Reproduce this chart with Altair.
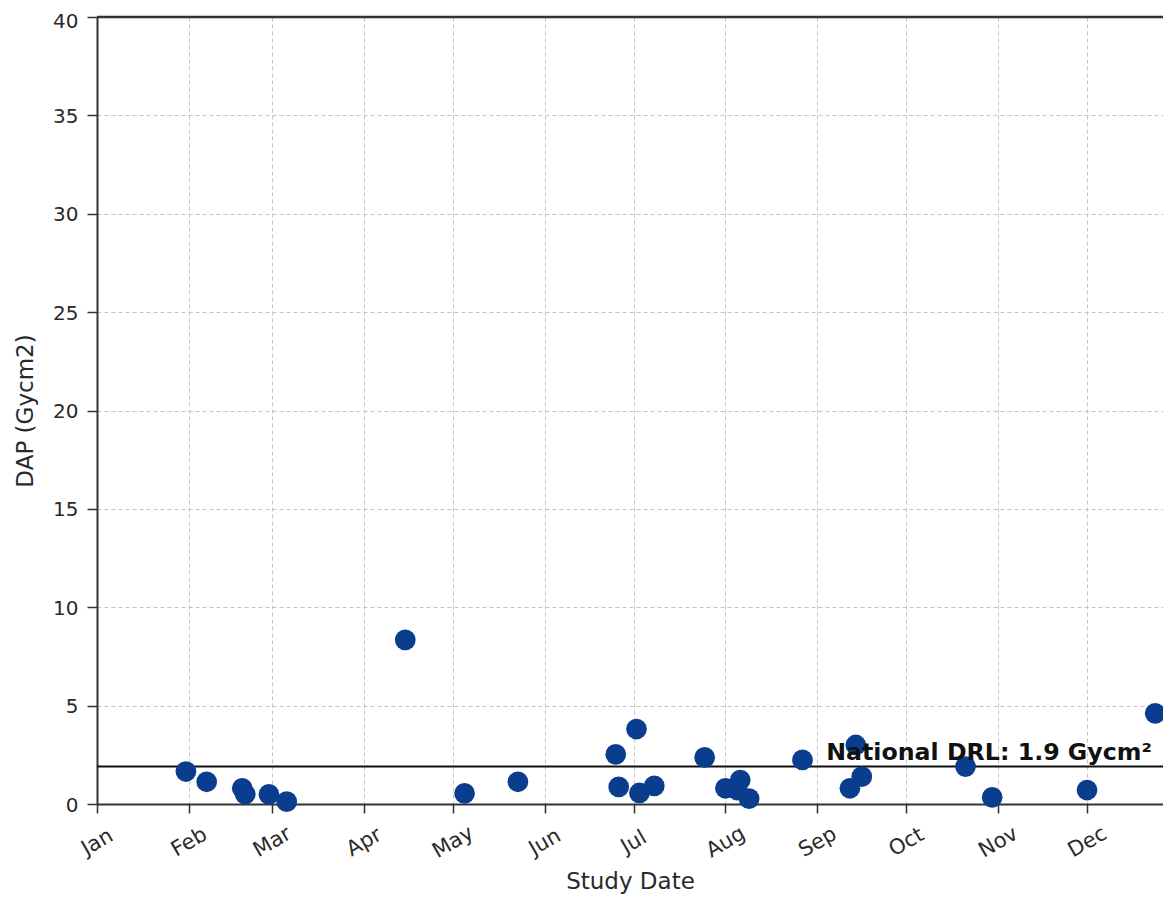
import altair as alt
import pandas as pd

# ---- data ----
study_dates = [
    "2023-01-31", "2023-02-07", "2023-02-19", "2023-02-20", "2023-02-28",
    "2023-03-06", "2023-04-15", "2023-05-05", "2023-05-23", "2023-06-25",
    "2023-06-26", "2023-07-02", "2023-07-03", "2023-07-08", "2023-07-25",
    "2023-08-01", "2023-08-05", "2023-08-06", "2023-08-09", "2023-08-27",
    "2023-09-12", "2023-09-14", "2023-09-16", "2023-10-21", "2023-10-30",
    "2023-12-01", "2023-12-24",
]
dap_values = [
    1.65, 1.13, 0.80, 0.50, 0.49,
    0.12, 8.34, 0.54, 1.13, 2.52,
    0.87, 3.81, 0.56, 0.92, 2.37,
    0.80, 0.71, 1.22, 0.27, 2.24,
    0.80, 3.00, 1.39, 1.90, 0.34,
    0.71, 4.61,
]
drl_value = [1.9]
drl_label = ["National DRL: 1.9 Gycm\u00b2"]
drl_label_date = ["2023-09-04"]
y_domain = [0, 40]
y_ticks = [0, 5, 10, 15, 20, 25, 30, 35, 40]
month_ticks = [1, 2, 3, 4, 5, 6, 7, 8, 9, 10, 11, 12]

df = pd.DataFrame({"date": [d + "T00:00:00" for d in study_dates], "dap": dap_values})
drl_df = pd.DataFrame({"y": drl_value})
lbl_df = pd.DataFrame({"date": [d + "T00:00:00" for d in drl_label_date],
                       "y": drl_value, "text": drl_label})
top_df = pd.DataFrame({"y": [y_domain[1]]})

FONT = "DejaVu Sans"
AXIS_COL = "#333333"
TXT_COL = "#2a2a2a"

x_scale = alt.Scale(domain=[alt.DateTime(year=2023, month=1, date=1),
                            alt.DateTime(year=2023, month=12, date=26, hours=15)])
y_scale = alt.Scale(domain=y_domain, nice=False)

x_axis = alt.Axis(
    values=[alt.DateTime(year=2023, month=m, date=1) for m in month_ticks],
    format="%b", labelAngle=330, labelAlign="center", labelBaseline="middle",
    labelPadding=29, title="Study Date", titlePadding=9,
    grid=True, gridDash=[4, 3], gridColor="#c4c4c4", gridWidth=1,
    tickSize=9, tickWidth=1.5, tickColor=AXIS_COL,
    domainColor=AXIS_COL, domainWidth=2,
    labelFont=FONT, labelFontSize=21, labelColor=TXT_COL,
    titleFont=FONT, titleFontSize=23, titleFontWeight="normal", titleColor=TXT_COL,
)
y_axis = alt.Axis(
    values=y_ticks, title="DAP (Gycm2)", titlePadding=15,
    grid=True, gridDash=[4, 3], gridColor="#c4c4c4", gridWidth=1,
    tickSize=10, tickWidth=1.5, tickColor=AXIS_COL,
    domainColor=AXIS_COL, domainWidth=2, labelPadding=9,
    labelBaseline="alphabetic",
    labelOffset={"condition": {"test": "datum.value == 40", "value": 10}, "value": 7},
    labelFont=FONT, labelFontSize=20, labelColor=TXT_COL,
    titleFont=FONT, titleFontSize=23, titleFontWeight="normal", titleColor=TXT_COL,
)

points = alt.Chart(df).mark_circle(size=430, opacity=1, color="#0b3d8e").encode(
    x=alt.X("date:T", scale=x_scale, axis=x_axis),
    y=alt.Y("dap:Q", scale=y_scale, axis=y_axis),
)

drl_line = alt.Chart(drl_df).mark_rule(color="#111111", strokeWidth=2).encode(
    y=alt.Y("y:Q", scale=y_scale),
)

top_border = alt.Chart(top_df).mark_rule(color=AXIS_COL, strokeWidth=2.5).encode(
    y=alt.Y("y:Q", scale=y_scale),
)

drl_text = alt.Chart(lbl_df).mark_text(
    align="left", baseline="alphabetic", dy=-7,
    font=FONT, fontSize=23.7, fontWeight="bold", color="#111111",
).encode(
    x=alt.X("date:T", scale=x_scale),
    y=alt.Y("y:Q", scale=y_scale),
    text="text:N",
)

chart = alt.layer(drl_line, points, drl_text, top_border).properties(
    width=1066, height=787,
    autosize=alt.AutoSizeParams(type="none"),
    padding={"left": 89, "top": 9, "right": 0, "bottom": 90},
).configure_view(stroke=None).configure(background="white")

chart.save("out.html", embed_options={"renderer": "svg", "actions": False})
